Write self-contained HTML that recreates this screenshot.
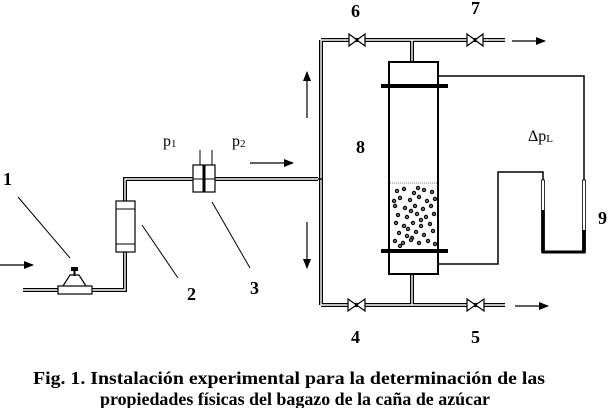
<!DOCTYPE html>
<html><head><meta charset="utf-8"><style>
html,body{margin:0;padding:0;background:#fff;width:614px;height:408px;overflow:hidden}
svg{display:block}
text{font-family:"Liberation Serif",serif}
.b{font-weight:bold;font-size:18px}
.c{font-weight:bold;font-size:17.5px}
</style></head><body>
<svg width="614" height="408" viewBox="0 0 614 408">
<defs>
<marker id="ah" markerWidth="10" markerHeight="8" refX="9" refY="4" orient="auto" markerUnits="userSpaceOnUse">
<path d="M0,0 L10,4 L0,8 z" fill="#000"/></marker>
</defs>
<g fill="none" stroke-linejoin="miter">
<path d="M23,290 H125 V179 H318 M321,40 V305 M321,40 H505 M321,305 H505 M412,40 V62 M412,274 V305" stroke="#000" stroke-width="4"/>
<path d="M23,290 H125 V179 H318 M321,40 V305 M321,40 H505 M321,305 H505 M412,40 V62 M412,274 V305" stroke="#fff" stroke-width="1.4"/>
<line x1="318" y1="179" x2="323" y2="179" stroke="#000" stroke-width="1.5"/>
</g>
<rect x="58" y="286" width="34" height="8" fill="#fff" stroke="#000" stroke-width="1.2"/>
<path d="M63,286 L70,275 H79 L86,286" fill="none" stroke="#000" stroke-width="1.2"/>
<rect x="71" y="267" width="7" height="4" fill="#000"/>
<rect x="73.5" y="270" width="2" height="6" fill="#000"/>
<rect x="116" y="201" width="19" height="51" fill="#fff" stroke="#000" stroke-width="1.2"/>
<line x1="116" y1="209" x2="135" y2="209" stroke="#000"/>
<line x1="116" y1="244" x2="135" y2="244" stroke="#000"/>
<rect x="193" y="165" width="22" height="27" fill="#fff" stroke="#000" stroke-width="1.2"/>
<rect x="202.5" y="165" width="3" height="27" fill="#000"/>
<line x1="193" y1="179" x2="215" y2="179" stroke="#000" stroke-width="1"/>
<line x1="200" y1="150" x2="200" y2="165" stroke="#000"/>
<line x1="212" y1="150" x2="212" y2="165" stroke="#000"/>
<g stroke="#000" stroke-width="1">
<line x1="18" y1="197" x2="70" y2="258"/>
<line x1="142" y1="225" x2="178" y2="278"/>
<line x1="212" y1="202" x2="250" y2="268"/>
</g>
<g stroke="#000" stroke-width="1.2" marker-end="url(#ah)">
<line x1="0" y1="265" x2="33" y2="265"/>
<line x1="250" y1="163" x2="293" y2="163"/>
<line x1="307" y1="118" x2="307" y2="72"/>
<line x1="307" y1="222" x2="307" y2="268"/>
<line x1="512" y1="41" x2="545" y2="41"/>
<line x1="515" y1="306" x2="548" y2="306"/>
</g>
<g fill="#fff" stroke="#000" stroke-width="1.2">
<path d="M349,34 L365,46 V34 L349,46 z"/>
<path d="M467,34 L483,46 V34 L467,46 z"/>
<path d="M348,299 L365,311 V299 L348,311 z"/>
<path d="M467,299 L484,311 V299 L467,311 z"/>
</g>
<rect x="389" y="62" width="49" height="212" fill="#fff" stroke="#000" stroke-width="2"/>
<rect x="381" y="84" width="67" height="4" fill="#000"/>
<rect x="381" y="249" width="67" height="4" fill="#000"/>
<line x1="390" y1="183" x2="437" y2="183" stroke="#000" stroke-width="0.6" stroke-dasharray="1,1"/>
<g fill="#888" stroke="#000" stroke-width="1.2">
<circle cx="397" cy="191" r="1.6"/><circle cx="404" cy="189" r="1.6"/><circle cx="414" cy="193" r="1.6"/><circle cx="418" cy="188" r="1.6"/><circle cx="424" cy="190" r="1.6"/><circle cx="432" cy="192" r="1.6"/>
<circle cx="400" cy="198" r="1.6"/><circle cx="410" cy="200" r="1.6"/><circle cx="419" cy="197" r="1.6"/><circle cx="427" cy="201" r="1.6"/><circle cx="435" cy="199" r="1.6"/><circle cx="394" cy="201" r="1.6"/>
<circle cx="395" cy="206" r="1.6"/><circle cx="405" cy="208" r="1.6"/><circle cx="415" cy="206" r="1.6"/><circle cx="423" cy="209" r="1.6"/><circle cx="431" cy="206" r="1.6"/><circle cx="411" cy="211" r="1.6"/>
<circle cx="398" cy="215" r="1.6"/><circle cx="407" cy="217" r="1.6"/><circle cx="417" cy="214" r="1.6"/><circle cx="426" cy="217" r="1.6"/><circle cx="434" cy="214" r="1.6"/><circle cx="421" cy="220" r="1.6"/>
<circle cx="396" cy="223" r="1.6"/><circle cx="404" cy="226" r="1.6"/><circle cx="413" cy="223" r="1.6"/><circle cx="421" cy="226" r="1.6"/><circle cx="430" cy="224" r="1.6"/><circle cx="408" cy="229" r="1.6"/>
<circle cx="399" cy="233" r="1.6"/><circle cx="407" cy="236" r="1.6"/><circle cx="416" cy="232" r="1.6"/><circle cx="424" cy="235" r="1.6"/><circle cx="433" cy="231" r="1.6"/><circle cx="412" cy="238" r="1.6"/>
<circle cx="395" cy="241" r="1.6"/><circle cx="403" cy="243" r="1.6"/><circle cx="411" cy="240" r="1.6"/><circle cx="419" cy="243" r="1.6"/><circle cx="428" cy="241" r="1.6"/><circle cx="435" cy="244" r="1.6"/><circle cx="400" cy="246" r="1.6"/>
</g>
<g fill="none" stroke="#000" stroke-width="1.5">
<path d="M438,76 H584 V180"/>
<path d="M438,264 H498 V172 H543 V180"/>
</g>
<rect x="541.5" y="180" width="3" height="72" fill="#fff" stroke="#000" stroke-width="0.8"/>
<rect x="582.5" y="180" width="3" height="72" fill="#fff" stroke="#000" stroke-width="0.8"/>
<path d="M543,210 V252 H584 V230" fill="none" stroke="#000" stroke-width="3"/>
<text x="3" y="185" class="b">1</text>
<text x="187" y="300" class="b">2</text>
<text x="250" y="294" class="b">3</text>
<text x="351" y="343" class="b">4</text>
<text x="471" y="343" class="b">5</text>
<text x="351" y="17" class="b">6</text>
<text x="471" y="14" class="b">7</text>
<text x="356" y="153" class="b">8</text>
<text x="598" y="224" class="b">9</text>
<text x="163" y="146" font-size="16">p<tspan font-size="11" dy="1">1</tspan></text>
<text x="232" y="146" font-size="16">p<tspan font-size="11" dy="1">2</tspan></text>
<text x="528" y="141" font-size="16">Δp<tspan font-size="11" dy="1">L</tspan></text>
<text x="33" y="384" class="c" textLength="512" lengthAdjust="spacingAndGlyphs">Fig. 1. Instalación experimental para la determinación de las</text>
<text x="100" y="405" class="c" textLength="390" lengthAdjust="spacingAndGlyphs">propiedades físicas del bagazo de la caña de azúcar</text>
</svg>
</body></html>
